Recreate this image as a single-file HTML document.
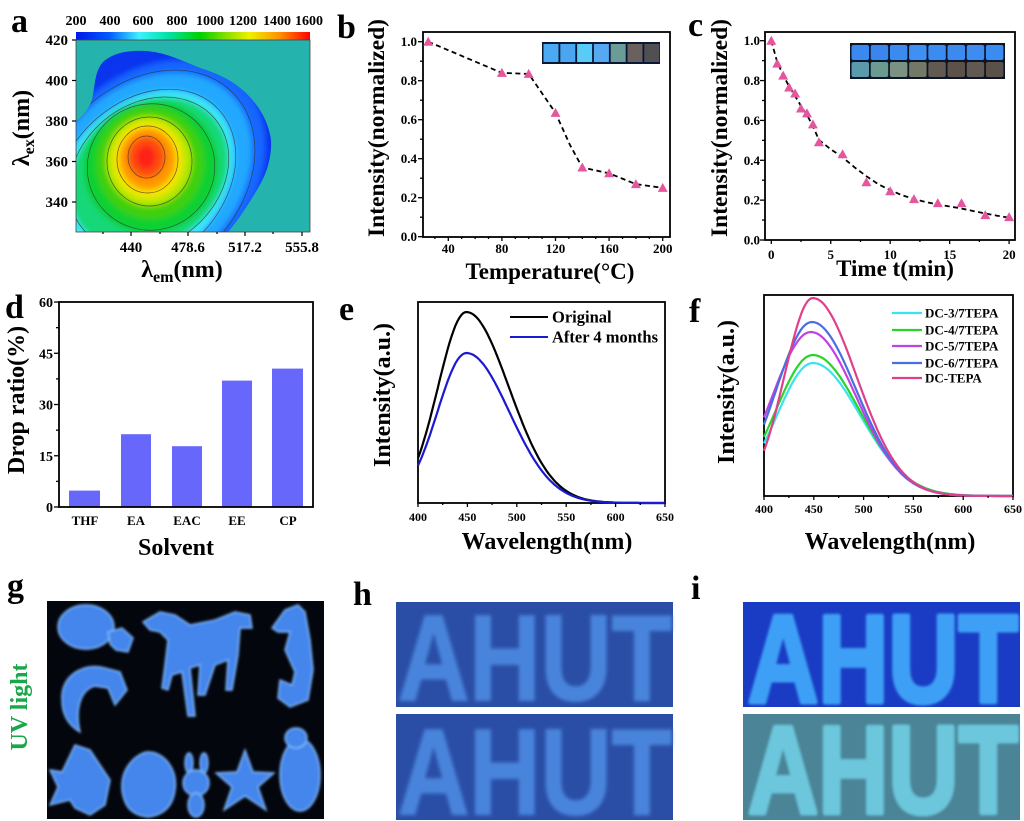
<!DOCTYPE html>
<html><head><meta charset="utf-8">
<style>
html,body{margin:0;padding:0;background:#fff;}
svg{display:block;}
text{font-family:"Liberation Serif",serif;font-weight:bold;fill:#000;}
.sans{font-family:"Liberation Sans",sans-serif;}
</style></head><body>
<svg id="s" width="1024" height="821" viewBox="0 0 1024 821" xmlns="http://www.w3.org/2000/svg">
<defs>
 <linearGradient id="cb" x1="0" x2="1" y1="0" y2="0">
  <stop offset="0" stop-color="#0018e8"/>
  <stop offset="0.14" stop-color="#0058ff"/>
  <stop offset="0.27" stop-color="#40f0ff"/>
  <stop offset="0.40" stop-color="#00e0a0"/>
  <stop offset="0.53" stop-color="#00d000"/>
  <stop offset="0.65" stop-color="#90e000"/>
  <stop offset="0.74" stop-color="#f0f000"/>
  <stop offset="0.87" stop-color="#ff9000"/>
  <stop offset="1" stop-color="#ff0000"/>
 </linearGradient>
 <clipPath id="ca"><rect x="76" y="40" width="234" height="192"/></clipPath>
 <clipPath id="blob"><path d="M76,122 C80,118 88,112 92,100 C95,88 94,72 103,62 C112,54 125,50 145,51 C165,52 180,60 200,68 C215,73 228,78 240,88 C255,100 268,118 271,140 C272,158 266,175 258,188 C248,205 238,220 228,232 L76,232 Z"/></clipPath>
 <filter id="bl" x="-20%" y="-20%" width="140%" height="140%"><feGaussianBlur stdDeviation="3"/></filter>
 <filter id="gl" x="-20%" y="-20%" width="140%" height="140%"><feGaussianBlur stdDeviation="1.2"/></filter>
 <filter id="sp" x="-5%" y="-5%" width="110%" height="110%"><feGaussianBlur stdDeviation="1.8"/></filter>
</defs>

<!-- ============ Panel a ============ -->
<text x="11" y="32" font-size="34">a</text>
<rect x="76" y="32" width="234" height="8" fill="url(#cb)"/>
<g font-size="14" text-anchor="middle">
 <text x="76" y="25">200</text><text x="110" y="25">400</text><text x="143" y="25">600</text><text x="177" y="25">800</text>
 <text x="210" y="25">1000</text><text x="243" y="25">1200</text><text x="277" y="25">1400</text><text x="309" y="25">1600</text>
</g>
<g clip-path="url(#ca)">
 <rect x="76" y="40" width="234" height="192" fill="#25b3ad"/>
 <path d="M76,122 C80,118 88,112 92,100 C95,88 94,72 103,62 C112,54 125,50 145,51 C165,52 180,60 200,68 C215,73 228,78 240,88 C255,100 268,118 271,140 C272,158 266,175 258,188 C248,205 238,220 228,232 L76,232 Z" fill="#0a34ee"/>
 <g clip-path="url(#blob)">
  <g filter="url(#bl)">
   <ellipse cx="150" cy="176" rx="130" ry="100" transform="rotate(-45 150 176)" fill="#1466ff"/>
   <ellipse cx="147" cy="178" rx="118" ry="90" transform="rotate(-45 147 178)" fill="#22a8ff"/>
   <ellipse cx="145" cy="180" rx="100" ry="76" transform="rotate(-45 145 180)" fill="#40eaff"/>
   <ellipse cx="149" cy="174" rx="86" ry="70" transform="rotate(-40 149 174)" fill="#18d878"/>
   <ellipse cx="151" cy="167" rx="68" ry="66" transform="rotate(-30 151 167)" fill="#10d030"/>
   <ellipse cx="150" cy="163" rx="54" ry="56" fill="#40d010"/>
   <ellipse cx="149" cy="161" rx="43" ry="45" fill="#b8e800"/>
   <ellipse cx="148" cy="160" rx="35" ry="38" fill="#f8e400"/>
   <ellipse cx="147.5" cy="159" rx="28" ry="31" fill="#ff9800"/>
   <ellipse cx="146.5" cy="157" rx="19" ry="21" fill="#ff5010"/>
   <ellipse cx="146" cy="157" rx="10" ry="12" fill="#ff2418"/>
  </g>
  <g fill="none" stroke="#303030" stroke-width="0.7" stroke-opacity="0.75">
   <ellipse cx="147" cy="178" rx="121" ry="93" transform="rotate(-45 147 178)"/>
   <ellipse cx="145" cy="180" rx="102" ry="78" transform="rotate(-45 145 180)"/>
   <ellipse cx="149" cy="174" rx="86" ry="70" transform="rotate(-40 149 174)"/>
   <ellipse cx="151" cy="167" rx="64" ry="63" transform="rotate(-30 151 167)"/>
   <ellipse cx="149.5" cy="161.5" rx="42.5" ry="44.5"/>
   <ellipse cx="147.5" cy="159.5" rx="30.5" ry="33.5"/>
   <ellipse cx="146.5" cy="157" rx="18.5" ry="21"/>
  </g>
 </g>
</g>
<rect x="76" y="40" width="234" height="192" fill="none" stroke="#444" stroke-width="0.8"/>
<g stroke="#000" stroke-width="1.2">
 <line x1="72" y1="40" x2="76" y2="40"/><line x1="72" y1="80.5" x2="76" y2="80.5"/><line x1="72" y1="121" x2="76" y2="121"/><line x1="72" y1="161.5" x2="76" y2="161.5"/><line x1="72" y1="202" x2="76" y2="202"/>
 <line x1="131" y1="232" x2="131" y2="236"/><line x1="188" y1="232" x2="188" y2="236"/><line x1="245" y1="232" x2="245" y2="236"/><line x1="302" y1="232" x2="302" y2="236"/>
 <line x1="103" y1="232" x2="103" y2="234"/><line x1="160" y1="232" x2="160" y2="234"/><line x1="217" y1="232" x2="217" y2="234"/><line x1="273" y1="232" x2="273" y2="234"/>
</g>
<g font-size="15" text-anchor="end">
 <text x="68" y="45">420</text><text x="68" y="85.5">400</text><text x="68" y="126">380</text><text x="68" y="166.5">360</text><text x="68" y="207">340</text>
</g>
<g font-size="15" text-anchor="middle">
 <text x="131" y="252">440</text><text x="188" y="252">478.6</text><text x="245" y="252">517.2</text><text x="302" y="252">555.8</text>
</g>
<text x="182" y="277" font-size="24" text-anchor="middle">λ<tspan font-size="16" dy="5">em</tspan><tspan dy="-5">(nm)</tspan></text>
<text transform="translate(29,128) rotate(-90)" font-size="24" text-anchor="middle">λ<tspan font-size="16" dy="5">ex</tspan><tspan dy="-5">(nm)</tspan></text>

<!-- ============ Panel b ============ -->
<text x="337" y="38" font-size="34">b</text>
<rect x="423" y="32" width="247" height="205" fill="none" stroke="#000" stroke-width="1.8"/>
<g font-size="13" text-anchor="end">
 <text x="417" y="241">0.0</text><text x="417" y="202">0.2</text><text x="417" y="163">0.4</text><text x="417" y="124">0.6</text><text x="417" y="85">0.8</text><text x="417" y="46">1.0</text>
</g>
<g font-size="13" text-anchor="middle">
 <text x="448.3" y="253">40</text><text x="501.9" y="253">80</text><text x="555.5" y="253">120</text><text x="609.1" y="253">160</text><text x="662.7" y="253">200</text>
</g>
<text x="550" y="279" font-size="23" text-anchor="middle">Temperature(°C)</text>
<text transform="translate(384,128) rotate(-90)" font-size="23.5" text-anchor="middle">Intensity(normalized)</text>
<polyline points="428.2,41.7 501.9,72.9 528.7,73.9 555.5,112.9 570,145 582.3,167.5 609.1,173.3 635.9,184.1 662.7,187.9" fill="none" stroke="#000" stroke-width="1.8" stroke-dasharray="5,3.5"/>
<g>
 <rect x="542" y="42" width="118" height="22" fill="#0a1838"/>
 <rect x="543.5" y="44" width="15" height="18" fill="#4aaaf2"/>
 <rect x="560.3" y="44" width="15" height="18" fill="#4aa6f0"/>
 <rect x="577.1" y="44" width="15" height="18" fill="#58cbf6"/>
 <rect x="593.9" y="44" width="15" height="18" fill="#56a8f2"/>
 <rect x="610.7" y="44" width="15" height="18" fill="#6a9c98"/>
 <rect x="627.5" y="44" width="15" height="18" fill="#6a605e"/>
 <rect x="644.3" y="44" width="15" height="18" fill="#505052"/>
</g>

<!-- ============ Panel c ============ -->
<text x="688" y="36" font-size="34">c</text>
<rect x="765" y="32" width="250" height="208" fill="none" stroke="#000" stroke-width="1.8"/>
<g font-size="13" text-anchor="end">
 <text x="760" y="244.5">0.0</text><text x="760" y="204.6">0.2</text><text x="760" y="164.8">0.4</text><text x="760" y="124.9">0.6</text><text x="760" y="85.1">0.8</text><text x="760" y="45.2">1.0</text>
</g>
<g font-size="13" text-anchor="middle">
 <text x="771.3" y="259">0</text><text x="830.8" y="259">5</text><text x="890.2" y="259">10</text><text x="949.7" y="259">15</text><text x="1009.1" y="259">20</text>
</g>
<text x="895" y="276" font-size="23" text-anchor="middle">Time t(min)</text>
<text transform="translate(727,128) rotate(-90)" font-size="23.5" text-anchor="middle">Intensity(normalized)</text>
<polyline points="771.3,40.7 777.2,62 783.2,75 789.1,86.5 795.1,96 801,106 807,115 812.9,126 818.9,140 830.8,149.3 842.6,157.3 854.5,167.3 866.4,176.2 878.3,184.2 890.2,190.2 902.1,195.2 914,199.1 925.9,202.1 937.8,204.5 949.7,206.5 961.5,208.5 973.4,211.1 985.3,213.5 997.2,215.7 1009.1,217.7" fill="none" stroke="#000" stroke-width="1.8" stroke-dasharray="5,3.5"/>
<g>
 <rect x="850" y="43" width="155" height="36" fill="#0c1426"/>
 <rect x="851.5" y="45" width="17.5" height="15" rx="2" fill="#3a88f0"/>
 <rect x="870.7" y="45" width="17.5" height="15" rx="2" fill="#3a86ee"/>
 <rect x="889.9" y="45" width="17.5" height="15" rx="2" fill="#3a8af0"/>
 <rect x="909.1" y="45" width="17.5" height="15" rx="2" fill="#3e90f4"/>
 <rect x="928.3" y="45" width="17.5" height="15" rx="2" fill="#3a8cf2"/>
 <rect x="947.5" y="45" width="17.5" height="15" rx="2" fill="#3a8af0"/>
 <rect x="966.7" y="45" width="17.5" height="15" rx="2" fill="#3c8cf2"/>
 <rect x="985.9" y="45" width="17.5" height="15" rx="2" fill="#3a8cf0"/>
 <rect x="851.5" y="62" width="17.5" height="15" rx="2" fill="#5a9aaa"/>
 <rect x="870.7" y="62" width="17.5" height="15" rx="2" fill="#6a9a90"/>
 <rect x="889.9" y="62" width="17.5" height="15" rx="2" fill="#7a9282"/>
 <rect x="909.1" y="62" width="17.5" height="15" rx="2" fill="#747866"/>
 <rect x="928.3" y="62" width="17.5" height="15" rx="2" fill="#625a52"/>
 <rect x="947.5" y="62" width="17.5" height="15" rx="2" fill="#5c524a"/>
 <rect x="966.7" y="62" width="17.5" height="15" rx="2" fill="#625a52"/>
 <rect x="985.9" y="62" width="17.5" height="15" rx="2" fill="#5a524a"/>
</g>

<!-- ============ Panel d ============ -->
<text x="5" y="318" font-size="34">d</text>
<g fill="#6767fb">
 <rect x="69" y="490.6" width="31" height="16.4"/>
 <rect x="121" y="434.2" width="30" height="72.8"/>
 <rect x="172" y="446.2" width="30" height="60.8"/>
 <rect x="222" y="380.6" width="30" height="126.4"/>
 <rect x="272" y="368.6" width="31" height="138.4"/>
</g>
<rect x="59" y="302" width="254" height="205" fill="none" stroke="#000" stroke-width="1.8"/>
<g font-size="14" text-anchor="end">
 <text x="53" y="512">0</text><text x="53" y="460.8">15</text><text x="53" y="409.5">30</text><text x="53" y="358.3">45</text><text x="53" y="307">60</text>
</g>
<g font-size="13" text-anchor="middle">
 <text x="85" y="525">THF</text><text x="136" y="525">EA</text><text x="187" y="525">EAC</text><text x="237" y="525">EE</text><text x="288" y="525">CP</text>
</g>
<text x="176" y="555" font-size="24" text-anchor="middle">Solvent</text>
<text transform="translate(24,400) rotate(-90)" font-size="24" text-anchor="middle">Drop ratio(%)</text>

<!-- ============ Panel e ============ -->
<text x="339" y="320" font-size="34">e</text>
<rect x="418" y="302" width="247" height="201" fill="none" stroke="#000" stroke-width="1.8"/>
<g font-size="12" text-anchor="middle">
 <text x="418" y="521">400</text><text x="467.4" y="521">450</text><text x="516.8" y="521">500</text><text x="566.2" y="521">550</text><text x="615.6" y="521">600</text><text x="665" y="521">650</text>
</g>
<text x="547" y="549" font-size="24" text-anchor="middle">Wavelength(nm)</text>
<text transform="translate(390,395) rotate(-90)" font-size="24" text-anchor="middle">Intensity(a.u.)</text>
<line x1="510" y1="317" x2="548" y2="317" stroke="#000" stroke-width="2"/>
<line x1="510" y1="337" x2="548" y2="337" stroke="#1a1ad0" stroke-width="2"/>
<text x="552" y="322.5" font-size="16.5">Original</text>
<text x="552" y="342.5" font-size="16.5">After 4 months</text>

<!-- ============ Panel f ============ -->
<text x="689" y="322" font-size="34">f</text>
<rect x="764" y="295" width="249" height="201" fill="none" stroke="#000" stroke-width="1.8"/>
<g font-size="12" text-anchor="middle">
 <text x="764" y="513">400</text><text x="813.8" y="513">450</text><text x="863.6" y="513">500</text><text x="913.4" y="513">550</text><text x="963.2" y="513">600</text><text x="1013" y="513">650</text>
</g>
<text x="890" y="549" font-size="24" text-anchor="middle">Wavelength(nm)</text>
<text transform="translate(734,392) rotate(-90)" font-size="24" text-anchor="middle">Intensity(a.u.)</text>
<g stroke-width="2.2">
 <line x1="892" y1="313" x2="922" y2="313" stroke="#38e4ee"/>
 <line x1="892" y1="330" x2="922" y2="330" stroke="#28d428"/>
 <line x1="892" y1="346" x2="922" y2="346" stroke="#c042e0"/>
 <line x1="892" y1="363" x2="922" y2="363" stroke="#4a6ee0"/>
 <line x1="892" y1="378" x2="922" y2="378" stroke="#e0408a"/>
</g>
<g font-size="13">
 <text x="925" y="317.5">DC-3/7TEPA</text>
 <text x="925" y="334.5">DC-4/7TEPA</text>
 <text x="925" y="350.5">DC-5/7TEPA</text>
 <text x="925" y="367.5">DC-6/7TEPA</text>
 <text x="925" y="382.5">DC-TEPA</text>
</g>

<g id="dyn"></g>

<!-- ============ Panel g ============ -->
<text x="7" y="597" font-size="34">g</text>
<text transform="translate(27,707) rotate(-90)" font-size="24" text-anchor="middle" style="fill:#18a84a">UV light</text>
<rect x="47" y="601" width="277" height="218" fill="#04060e"/>
<g fill="#4486ec" stroke="#80bcff" stroke-width="1.4" filter="url(#gl)">
 <ellipse cx="86" cy="627" rx="28" ry="22"/>
 <path d="M108,632 L122,628 L133,638 L128,652 L116,650 L110,644 Z"/>
 <path d="M143,622 L160,612 L175,615 L190,625 L215,620 L235,612 L250,615 L252,628 L240,628 L238,655 L232,690 L226,690 L228,660 L215,665 L205,695 L198,695 L200,665 L190,668 L195,716 L188,716 L182,672 L172,675 L168,690 L162,688 L165,665 L168,640 L160,632 L150,630 Z"/>
 <path d="M272,628 L285,610 L298,605 L305,612 L310,640 L313,670 L308,700 L290,707 L278,698 L280,680 L292,685 L295,672 L285,650 L290,632 L278,632 Z"/>
 <path d="M62,700 C60,675 85,662 105,668 L120,672 L127,690 L115,705 L108,688 L95,686 C80,690 75,710 80,732 C68,725 62,715 62,700 Z"/>
 <path d="M50,770 L62,772 L75,745 L90,750 L110,780 L105,805 L90,815 L75,808 L70,800 L50,805 L58,787 Z"/>
 <path d="M122,790 C120,765 140,752 148,752 C165,752 178,770 175,790 C173,805 165,815 148,817 C130,815 124,805 122,790 Z"/>
 <ellipse cx="189" cy="763" rx="4" ry="10"/>
 <ellipse cx="204" cy="763" rx="4" ry="10"/>
 <circle cx="196" cy="783" r="13"/>
 <ellipse cx="196" cy="805" rx="8" ry="12"/>
 <path d="M245,750 L253,772 L274,773 L258,787 L266,810 L245,796 L224,810 L232,787 L216,773 L237,772 Z"/>
 <ellipse cx="300" cy="775" rx="20" ry="36"/>
 <ellipse cx="296" cy="738" rx="11" ry="10"/>
</g>

<!-- ============ Panel h ============ -->
<text x="353" y="605" font-size="34">h</text>
<rect x="396" y="602" width="277" height="105" fill="#2a4ea6"/>
<rect x="396" y="714" width="277" height="106" fill="#2a4ea6"/>
<g filter="url(#sp)" style="fill:#4a84dc;stroke:#4a84dc;stroke-width:2">
 <text class="sans" x="398" y="700" font-size="122" textLength="274" lengthAdjust="spacingAndGlyphs" style="fill:#4a84dc">AHUT</text>
 <text class="sans" x="398" y="814" font-size="122" textLength="274" lengthAdjust="spacingAndGlyphs" style="fill:#4a84dc">AHUT</text>
</g>

<!-- ============ Panel i ============ -->
<text x="691" y="599" font-size="34">i</text>
<rect x="743" y="602" width="277" height="105" fill="#1a3cc4"/>
<rect x="743" y="714" width="277" height="106" fill="#4a8496"/>
<g filter="url(#gl)">
 <text class="sans" x="748" y="702" font-size="124" textLength="270" lengthAdjust="spacingAndGlyphs" style="fill:#3ca0f6;stroke:#3ca0f6;stroke-width:5;stroke-linejoin:round">AHUT</text>
 <text class="sans" x="748" y="813" font-size="124" textLength="270" lengthAdjust="spacingAndGlyphs" style="fill:#6cc6dc;stroke:#6cc6dc;stroke-width:5;stroke-linejoin:round">AHUT</text>
</g>
</svg>
<script>
(function(){
var NS="http://www.w3.org/2000/svg";
var P=document.getElementById('dyn');
function el(tag,a){var e=document.createElementNS(NS,tag);for(var k in a)e.setAttribute(k,a[k]);P.appendChild(e);return e;}
function curve(x0,sx,base,amp,p,sl,sr,col){
  var d="";
  for(var l=400;l<=650;l+=2){
    var dd=l-p,s=dd<0?sl:sr;
    var v=amp*Math.exp(-dd*dd/(2*s*s));
    d+=(l==400?"M":"L")+(x0+(l-400)*sx).toFixed(1)+","+(base-v).toFixed(1);
  }
  el('path',{d:d,fill:'none',stroke:col,'stroke-width':2.2});
}
curve(418,247/250,503,191,449,28.8,43,"#000000");
curve(418,247/250,503,150,449,29.4,43.5,"#1a1ad0");
curve(764,249/250,496,133,449,36,47.6,"#38e4ee");
curve(764,249/250,496,141,449,37.2,47,"#28d428");
curve(764,249/250,496,164,447,38.8,45.5,"#c042e0");
curve(764,249/250,496,174,448,36,44.9,"#4a6ee0");
curve(764,249/250,496,198,449,28.5,43.8,"#e0408a");
function tri(x,y){el('polygon',{points:(x-5)+','+(y+4)+' '+(x+5)+','+(y+4)+' '+x+','+(y-5),fill:'#e4579f'});}
[[428.2,41.7],[501.9,72.9],[528.7,73.9],[555.5,112.9],[582.3,167.5],[609.1,173.3],[635.9,184.1],[662.7,187.9]].forEach(function(p){tri(p[0],p[1]);});
[[771.3,40.7],[777.2,63.6],[783.2,75.6],[789.1,87.5],[795.1,93.5],[801,108.5],[807,113.4],[812.9,124.4],[818.9,142.3],[842.6,154.3],[866.4,182.2],[890.2,191.2],[914,199.1],[937.8,203.1],[961.5,203.1],[985.3,215.1],[1009.1,217.1]].forEach(function(p){tri(p[0],p[1]);});
function tk(x1,y1,x2,y2){el('line',{x1:x1,y1:y1,x2:x2,y2:y2,stroke:'#000','stroke-width':1.3});}
var i,x,y,T;
for(i=0;i<=10;i++){y=236.7-19.5*i;tk(i%2?420:418,y,423,y);}
for(T=30;T<=200;T+=10){x=448.3+(T-40)*1.34;tk(x,237,x,T%40==0?241:239);}
for(i=0;i<=10;i++){y=240-19.93*i;tk(i%2?762:760,y,765,y);}
for(i=0;i<=8;i++){var t=i*2.5;x=771.3+11.89*t;tk(x,240,x,t%5==0?244:242);}
for(i=0;i<=8;i++){y=507-25.62*i;tk(i%2?56:54,y,59,y);}
for(i=0;i<=10;i++){x=418+24.7*i;tk(x,503,x,i%2?505:507);}
for(i=0;i<=10;i++){x=764+24.9*i;tk(x,496,x,i%2?498:500);}
})();
</script>
</body></html>
